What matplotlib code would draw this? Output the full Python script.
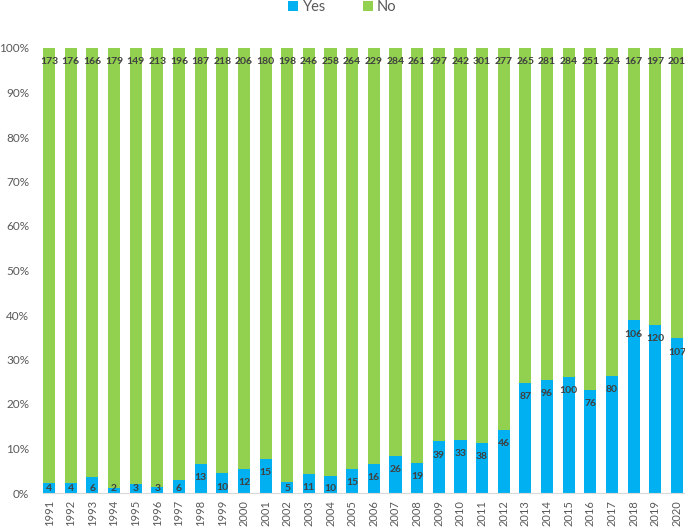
import matplotlib
matplotlib.use("Agg")
import matplotlib.pyplot as plt
import numpy as np

years = [str(y) for y in range(1991, 2021)]
yes = [4, 4, 6, 2, 3, 3, 6, 13, 10, 12, 15, 5, 11, 10, 15, 16, 26, 19, 39, 33,
       38, 46, 87, 96, 100, 76, 80, 106, 120, 107]
no = [173, 176, 166, 179, 149, 213, 196, 187, 218, 206, 180, 198, 246, 258, 264,
      229, 284, 261, 297, 242, 301, 277, 265, 281, 284, 251, 224, 167, 197, 201]

BLUE = "#00B0F0"
GREEN = "#92D050"
TXT = "#595959"
LAB = "#404040"

plt.rcParams["font.family"] = ["Lato", "DejaVu Sans"]

yes_a = np.array(yes, float)
no_a = np.array(no, float)
tot = yes_a + no_a
yes_p = yes_a / tot * 100
no_p = no_a / tot * 100
x = np.arange(len(years))

fig = plt.figure(figsize=(6.85, 5.27), dpi=100)
ax = fig.add_axes([43 / 685, 34 / 527, 642 / 685, 445 / 527])

w = 0.56
ax.bar(x, yes_p, w, color=BLUE, label="Yes", zorder=2)
ax.bar(x, no_p, w, bottom=yes_p, color=GREEN, label="No", zorder=2)

# labels sit just inside the end of each segment
for i in range(len(x)):
    ax.text(x[i], max(yes_p[i] - 3.1, 0.9), str(yes[i]), ha="center", va="center",
            fontsize=7.5, fontweight="bold", color=LAB, zorder=3)
    ax.text(x[i], 96.9, str(no[i]), ha="center", va="center",
            fontsize=7.5, fontweight="bold", color=LAB, zorder=3)

ax.set_xlim(-0.28, 29.37)
ax.set_ylim(0, 100)
ax.set_yticks(np.arange(0, 101, 10))
ax.set_yticklabels([f"{v}%" for v in range(0, 101, 10)])
ax.set_xticks(x)
ax.set_xticklabels(years, rotation=90)
ax.tick_params(axis="both", length=0, colors=TXT, labelsize=8.5)
ax.tick_params(axis="y", pad=10)
ax.tick_params(axis="x", pad=5, labelsize=8)
for s in ["top", "right", "left"]:
    ax.spines[s].set_visible(False)
ax.spines["bottom"].set_color("#D9D9D9")

fig.legend(loc="upper center", bbox_to_anchor=(0.5, 1.025), ncol=2, frameon=False,
           fontsize=10.5, handlelength=0.7, handleheight=0.7, columnspacing=2.5,
           handletextpad=0.3, labelcolor=TXT)

fig.savefig("out.png", dpi=100)
